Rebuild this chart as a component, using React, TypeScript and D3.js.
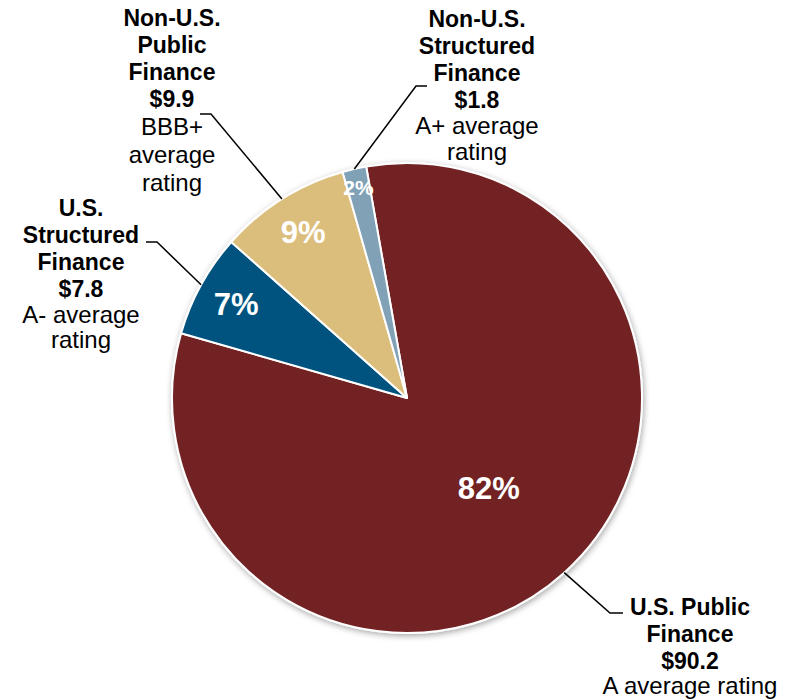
import { useEffect, useRef } from 'react';
import * as d3 from 'd3';

// data
const segments = ['U.S. Public Finance', 'U.S. Structured Finance', 'Non-U.S. Public Finance', 'Non-U.S. Structured Finance'];
const amounts = [90.2, 7.8, 9.9, 1.8];
const percentLabels = ['82%', '7%', '9%', '2%'];
const titleLines = [
	['U.S. Public', 'Finance'],
	['U.S.', 'Structured', 'Finance'],
	['Non-U.S.', 'Public', 'Finance'],
	['Non-U.S.', 'Structured', 'Finance']
];
const ratingLines = [['A average rating'], ['A- average', 'rating'], ['BBB+', 'average', 'rating'], ['A+ average', 'rating']];
const colors = ['#722224', '#02527f', '#dcbe7b', '#80a1b6'];

// layout
const width = 792;
const height = 700;
const cx = 407;
const cy = 398;
const radius = 235;
const startDeg = -10;
const pctRadius = [0.52, 0.83, 0.83, 0.92];
const pctSize = [31, 31, 31, 21];
// label block: center x, first baseline, leader elbow + end, rating gap / step
const labelPos = [
	{ x: 690, y: 615, elbow: [610, 613], end: [623, 613], gap: 25, step: 26 },
	{ x: 81, y: 216, elbow: [157, 242], end: [146, 242], gap: 25.5, step: 25.5 },
	{ x: 172, y: 26, elbow: [211, 114], end: [200, 114], gap: 28, step: 28 },
	{ x: 477, y: 27, elbow: [416, 86], end: [427, 86], gap: 25.5, step: 26 }
];

const font = 'Liberation Sans, Arial, Helvetica, sans-serif';

function App() {
	const ref = useRef<SVGSVGElement>(null);

	useEffect(() => {
		const svg = d3.select(ref.current);
		svg.selectAll('*').remove();

		const defs = svg.append('defs');
		const filter = defs.append('filter').attr('id', 'shadow').attr('x', '-10%').attr('y', '-10%').attr('width', '120%').attr('height', '120%');
		filter.append('feDropShadow').attr('dx', 1).attr('dy', 2).attr('stdDeviation', 3).attr('flood-color', '#000').attr('flood-opacity', 0.35);

		const g = svg.append('g').attr('transform', `translate(${cx}, ${cy})`);

		const a0 = (startDeg * Math.PI) / 180;
		const pie = d3
			.pie<number>()
			.sort(null)
			.startAngle(a0)
			.endAngle(a0 + 2 * Math.PI)
			.value((d) => d);
		const arcs = pie(amounts);
		const arc = d3.arc<d3.PieArcDatum<number>>().innerRadius(0).outerRadius(radius);

		const slices = g.append('g').attr('filter', 'url(#shadow)');
		slices
			.selectAll('path')
			.data(arcs)
			.enter()
			.append('path')
			.attr('d', arc)
			.style('fill', (_, i) => colors[i])
			.style('stroke', '#ffffff')
			.style('stroke-width', 2)
			.style('stroke-linejoin', 'round');

		// percentage labels
		g.selectAll('text.pct')
			.data(arcs)
			.enter()
			.append('text')
			.attr('class', 'pct')
			.attr('text-anchor', 'middle')
			.attr('dominant-baseline', 'central')
			.attr('transform', (d, i) => {
				const [x, y] = d3.arc<d3.PieArcDatum<number>>().innerRadius(0).outerRadius(2 * radius * pctRadius[i]).centroid(d);
				return `translate(${x}, ${y})`;
			})
			.style('fill', '#ffffff')
			.style('font-family', font)
			.style('font-weight', 'bold')
			.style('font-size', (_, i) => `${pctSize[i]}px`)
			.text((_, i) => percentLabels[i]);

		// leader lines
		const edge = d3.arc<d3.PieArcDatum<number>>().innerRadius(radius).outerRadius(radius);
		svg.append('g')
			.selectAll('polyline')
			.data(arcs)
			.enter()
			.append('polyline')
			.attr('points', (d, i) => {
				const [x, y] = edge.centroid(d);
				const p = labelPos[i];
				return `${cx + x},${cy + y} ${p.elbow[0]},${p.elbow[1]} ${p.end[0]},${p.end[1]}`;
			})
			.style('fill', 'none')
			.style('stroke', '#000')
			.style('stroke-width', 1.5);

		// outside labels
		segments.forEach((name, i) => {
			const p = labelPos[i];
			const lab = svg.append('g').attr('class', 'label').attr('data-name', name);
			const bold = [...titleLines[i], `$${amounts[i].toFixed(1)}`];
			let y = p.y;
			bold.forEach((t, j) => {
				if (j > 0) y += 27;
				lab.append('text')
					.attr('x', p.x)
					.attr('y', y)
					.attr('text-anchor', 'middle')
					.style('font-family', font)
					.style('font-weight', 'bold')
					.style('font-size', '23px')
					.style('fill', '#000')
					.text(t);
			});
			y += p.gap;
			ratingLines[i].forEach((t, j) => {
				if (j > 0) y += p.step;
				lab.append('text')
					.attr('x', p.x)
					.attr('y', y)
					.attr('text-anchor', 'middle')
					.style('font-family', font)
					.style('font-size', '24px')
					.style('fill', '#000')
					.text(t);
			});
		});
	}, []);

	return (
		<svg
			ref={ref}
			width={width}
			height={height}
			style={{ position: 'absolute', left: 0, top: 0, background: '#ffffff' }}
		/>
	);
}

export default App;
